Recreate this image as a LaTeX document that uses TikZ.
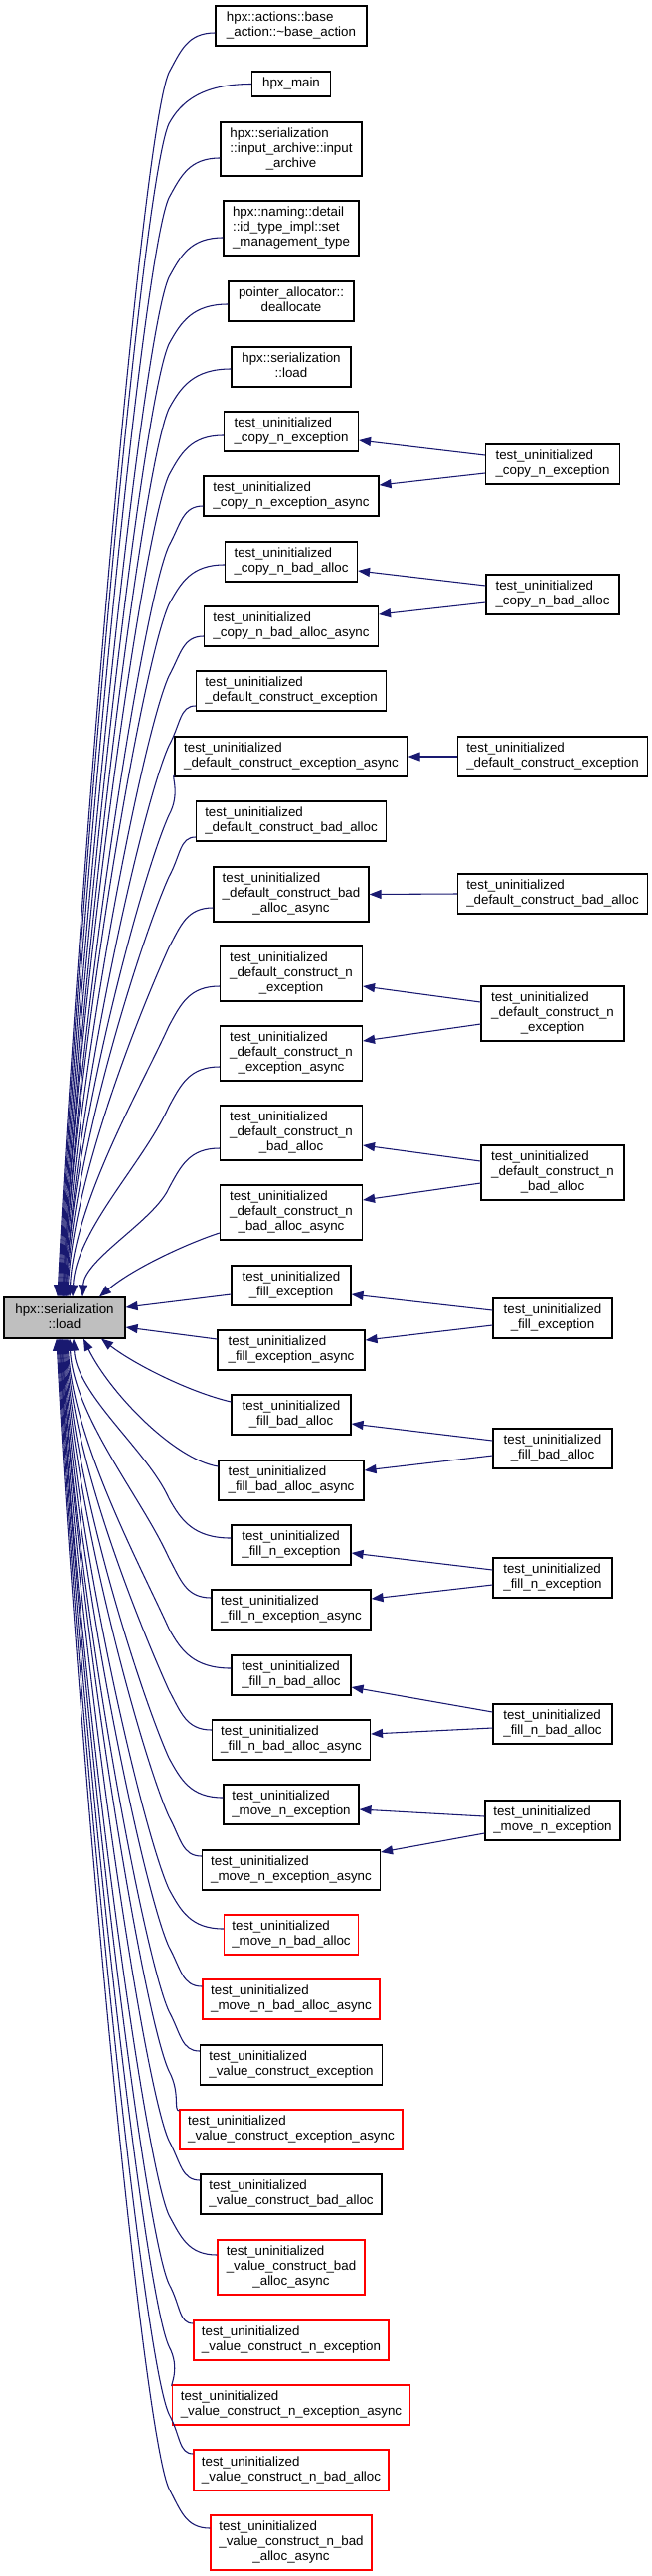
\documentclass[tikz,border=0pt]{standalone}
\usepackage{fontspec}
\setmainfont{Liberation Sans}
\usetikzlibrary{arrows.meta,calc}
\definecolor{edgeblue}{HTML}{191970}
\definecolor{nodegray}{HTML}{BFBFBF}
\newcommand\lab[2]{\begin{tabular}{@{}l@{}}#1\\\multicolumn{1}{@{}c@{}}{#2}\end{tabular}}
\newcommand\tuz{test\_uninitialized}
\newcommand\bx[7][box]{\node[#1,minimum width={#5*0.75pt},minimum height={#6*0.75pt}] (#2) at (#3,#4) {#7};}
\tikzset{
  box/.style={draw=black,line width=0.9pt,rectangle,inner sep=0pt,fill=white,
    font=\fontsize{10}{11.25}\selectfont},
  redbox/.style={box,draw=red},
  gbox/.style={box,fill=nodegray},
  edge/.style={draw=edgeblue,line width=0.8pt,-{Triangle[length=9pt,width=6.75pt,fill=edgeblue]}},
}
\newcommand\upedge[3]{%
  \draw[edge] let \p1=($(#1.west)+(0,#2)$), \p2=($(g.north)+(#3-65,0)$),
    \n1={min(45pt,0.3*(\y1-30pt-\y2))}, \n2={0.35*(\y1-30pt-\y2)} in
    (\p1) .. controls ({\x1-0.6*(\x1-127.5pt)},\y1) and (136.5pt,{\y1-13.5pt}) .. (127.5pt,{\y1-30pt})
    .. controls ({127.5pt-0.45*\n1},{\y1-30pt-\n1}) and ({\x2+0.05*\n2},{\y2+\n2}) .. (\p2);}
\newcommand\downedge[3]{%
  \draw[edge] let \p1=($(#1.west)+(0,#2)$), \p2=($(g.south)+(#3-65,0)$),
    \n1={min(45pt,0.3*(\y2-\y1-30pt))}, \n2={0.35*(\y2-\y1-30pt)} in
    (\p1) .. controls ({\x1-0.6*(\x1-127.5pt)},\y1) and (136.5pt,{\y1+13.5pt}) .. (127.5pt,{\y1+30pt})
    .. controls ({127.5pt-0.45*\n1},{\y1+30pt+\n1}) and ({\x2+0.05*\n2},{\y2-\n2}) .. (\p2);}
\begin{document}
\begin{tikzpicture}[x=0.75pt,y=-0.75pt]
\useasboundingbox (0,0) rectangle (656,2591);
% main node
\bx[gbox]{g}{65}{1325.5}{122}{41}{\lab{hpx::serialization}{::load}}
% left column
\bx{n1}{293}{26}{152}{40}{\lab{hpx::actions::base}{\_action::\textasciitilde base\_action}}
\bx{n2}{293}{84.5}{79}{25}{hpx\_main}
\bx{n3}{293}{150}{142}{54}{\lab{hpx::serialization\\::input\_archive::input}{\_archive}}
\bx{n4}{293}{229.5}{136}{55}{\lab{hpx::naming::detail\\::id\_type\_impl::set}{\_management\_type}}
\bx{n5}{293}{303}{126}{40}{\lab{pointer\_allocator::}{deallocate}}
\bx{n6}{293}{369}{120}{40}{\lab{hpx::serialization}{::load}}
\bx{n7}{293}{434}{135}{40}{\lab{\tuz}{\_copy\_n\_exception}}
\bx{n8}{293}{499}{176}{40}{\lab{\tuz}{\_copy\_n\_exception\_async}}
\bx{n9}{293}{565}{133}{40}{\lab{\tuz}{\_copy\_n\_bad\_alloc}}
\bx{n10}{293}{630}{175}{40}{\lab{\tuz}{\_copy\_n\_bad\_alloc\_async}}
\bx{n11}{293}{695}{191}{40}{\lab{\tuz}{\_default\_construct\_exception}}
\bx{n12}{293}{761}{234}{40}{\lab{\tuz}{\_default\_construct\_exception\_async}}
\bx{n13}{293}{826}{191}{40}{\lab{\tuz}{\_default\_construct\_bad\_alloc}}
\bx{n14}{293}{899.5}{156}{55}{\lab{\tuz\\\_default\_construct\_bad}{\_alloc\_async}}
\bx{n15}{293}{979.5}{143}{55}{\lab{\tuz\\\_default\_construct\_n}{\_exception}}
\bx{n16}{293}{1059.5}{143}{55}{\lab{\tuz\\\_default\_construct\_n}{\_exception\_async}}
\bx{n17}{293}{1139.5}{143}{55}{\lab{\tuz\\\_default\_construct\_n}{\_bad\_alloc}}
\bx{n18}{293}{1219.5}{143}{55}{\lab{\tuz\\\_default\_construct\_n}{\_bad\_alloc\_async}}
\bx{n19}{293}{1293}{120}{40}{\lab{\tuz}{\_fill\_exception}}
\bx{n20}{293}{1358}{148}{40}{\lab{\tuz}{\_fill\_exception\_async}}
\bx{n21}{293}{1423}{120}{40}{\lab{\tuz}{\_fill\_bad\_alloc}}
\bx{n22}{293}{1489}{146}{40}{\lab{\tuz}{\_fill\_bad\_alloc\_async}}
\bx{n23}{293}{1554}{120}{40}{\lab{\tuz}{\_fill\_n\_exception}}
\bx{n24}{293}{1619}{160}{40}{\lab{\tuz}{\_fill\_n\_exception\_async}}
\bx{n25}{293}{1685}{120}{40}{\lab{\tuz}{\_fill\_n\_bad\_alloc}}
\bx{n26}{293}{1750}{159}{40}{\lab{\tuz}{\_fill\_n\_bad\_alloc\_async}}
\bx{n27}{293}{1815}{136}{40}{\lab{\tuz}{\_move\_n\_exception}}
\bx{n28}{293}{1881}{179}{40}{\lab{\tuz}{\_move\_n\_exception\_async}}
\bx[redbox]{n29}{293}{1946}{135}{40}{\lab{\tuz}{\_move\_n\_bad\_alloc}}
\bx[redbox]{n30}{293}{2011}{178}{40}{\lab{\tuz}{\_move\_n\_bad\_alloc\_async}}
\bx{n31}{293}{2077}{183}{40}{\lab{\tuz}{\_value\_construct\_exception}}
\bx[redbox]{n32}{293}{2142}{224}{40}{\lab{\tuz}{\_value\_construct\_exception\_async}}
\bx{n33}{293}{2207}{182}{40}{\lab{\tuz}{\_value\_construct\_bad\_alloc}}
\bx[redbox]{n34}{293}{2280.5}{148}{55}{\lab{\tuz\\\_value\_construct\_bad}{\_alloc\_async}}
\bx[redbox]{n35}{293}{2354}{196}{40}{\lab{\tuz}{\_value\_construct\_n\_exception}}
\bx[redbox]{n36}{293}{2419}{239}{40}{\lab{\tuz}{\_value\_construct\_n\_exception\_async}}
\bx[redbox]{n37}{293}{2484.5}{196}{41}{\lab{\tuz}{\_value\_construct\_n\_bad\_alloc}}
\bx[redbox]{n38}{293}{2557.5}{162}{55}{\lab{\tuz\\\_value\_construct\_n\_bad}{\_alloc\_async}}
% right column
\bx{r1}{556}{467}{135}{40}{\lab{\tuz}{\_copy\_n\_exception}}
\bx{r2}{556}{598}{134}{40}{\lab{\tuz}{\_copy\_n\_bad\_alloc}}
\bx{r3}{556}{761}{191}{40}{\lab{\tuz}{\_default\_construct\_exception}}
\bx{r4}{556}{899}{191}{40}{\lab{\tuz}{\_default\_construct\_bad\_alloc}}
\bx{r5}{556}{1019.5}{144}{55}{\lab{\tuz\\\_default\_construct\_n}{\_exception}}
\bx{r6}{556}{1179.5}{144}{55}{\lab{\tuz\\\_default\_construct\_n}{\_bad\_alloc}}
\bx{r7}{556}{1326}{120}{40}{\lab{\tuz}{\_fill\_exception}}
\bx{r8}{556}{1457}{120}{40}{\lab{\tuz}{\_fill\_bad\_alloc}}
\bx{r9}{556}{1587}{120}{40}{\lab{\tuz}{\_fill\_n\_exception}}
\bx{r10}{556}{1734}{120}{40}{\lab{\tuz}{\_fill\_n\_bad\_alloc}}
\bx{r11}{556}{1831}{136}{40}{\lab{\tuz}{\_move\_n\_exception}}
% edges into the main node from above
\upedge{n1}{7}{58}
\upedge{n2}{0}{59}
\upedge{n3}{9}{60}
\upedge{n4}{9.5}{61}
\upedge{n5}{3}{62}
\upedge{n6}{2}{63}
\upedge{n7}{4}{63}
\upedge{n8}{10}{64}
\upedge{n9}{3}{64}
\upedge{n10}{10}{65}
\upedge{n11}{15}{66}
\upedge{n12}{19}{66}
\upedge{n13}{16}{67}
\upedge{n14}{13.5}{68}
\upedge{n15}{12.5}{70}
\upedge{n16}{13.5}{73}
\upedge{n17}{15.5}{83}
\draw[edge] ($(n18.west)+(0,20.5)$) .. controls (190,1250) and (135,1275) .. ($(g.north)+(35,0)$);
% edges into the right side
\draw[edge] ($(n19.west)+(0,9)$) -- ($(g.east)+(0,-10.5)$);
\draw[edge] ($(n20.west)+(0,-11)$) -- ($(g.east)+(0,9.5)$);
% edges into the main node from below
\draw[edge] ($(n21.west)+(0,-13)$) .. controls (190,1400) and (135,1372) .. ($(g.south)+(37,0)$);
\draw[edge] ($(n22.west)+(0,-14)$) .. controls (175,1468) and (110,1400) .. ($(g.south)+(19,0)$);
\downedge{n23}{-7}{74}
\downedge{n24}{-12}{70}
\downedge{n25}{-7}{68}
\downedge{n26}{-10}{67}
\downedge{n27}{-7}{66}
\downedge{n28}{-14}{65}
\downedge{n29}{-6}{64}
\downedge{n30}{-13}{63}
\downedge{n31}{-14}{62}
\downedge{n32}{-19}{62}
\downedge{n33}{-14}{61}
\downedge{n34}{-12.5}{60}
\downedge{n35}{-17}{60}
\downedge{n36}{-19}{59}
\downedge{n37}{-16.5}{58}
\downedge{n38}{-14.5}{57}
% right column edges
\draw[edge] ($(r1.west)+(0,-9)$) -- ($(n7.east)+(0,9)$);
\draw[edge] ($(r1.west)+(0,9)$) -- ($(n8.east)+(0,-11)$);
\draw[edge] ($(r2.west)+(0,-9)$) -- ($(n9.east)+(0,9)$);
\draw[edge] ($(r2.west)+(0,8)$) -- ($(n10.east)+(0,-12)$);
\draw[edge] (r3.west) -- (n12.east);
\draw[edge] (r4.west) -- (n14.east);
\draw[edge] ($(r5.west)+(0,-11.5)$) -- ($(n15.east)+(0,12.5)$);
\draw[edge] ($(r5.west)+(0,10.5)$) -- ($(n16.east)+(0,-12.5)$);
\draw[edge] ($(r6.west)+(0,-11.5)$) -- ($(n17.east)+(0,12.5)$);
\draw[edge] ($(r6.west)+(0,10.5)$) -- ($(n18.east)+(0,-12.5)$);
\draw[edge] ($(r7.west)+(0,-8)$) -- ($(n19.east)+(0,9)$);
\draw[edge] ($(r7.west)+(0,7)$) -- ($(n20.east)+(0,-10)$);
\draw[edge] ($(r8.west)+(0,-8)$) -- ($(n21.east)+(0,9)$);
\draw[edge] ($(r8.west)+(0,7)$) -- ($(n22.east)+(0,-10)$);
\draw[edge] ($(r9.west)+(0,-8)$) -- ($(n23.east)+(0,8)$);
\draw[edge] ($(r9.west)+(0,7)$) -- ($(n24.east)+(0,-11)$);
\draw[edge] ($(r10.west)+(0,-12)$) -- ($(n25.east)+(0,12)$);
\draw[edge] ($(r10.west)+(0,4)$) -- ($(n26.east)+(0,-6)$);
\draw[edge] ($(r11.west)+(0,-4)$) -- ($(n27.east)+(0,5)$);
\draw[edge] ($(r11.west)+(0,13)$) -- ($(n28.east)+(0,-18)$);
\end{tikzpicture}
\end{document}
